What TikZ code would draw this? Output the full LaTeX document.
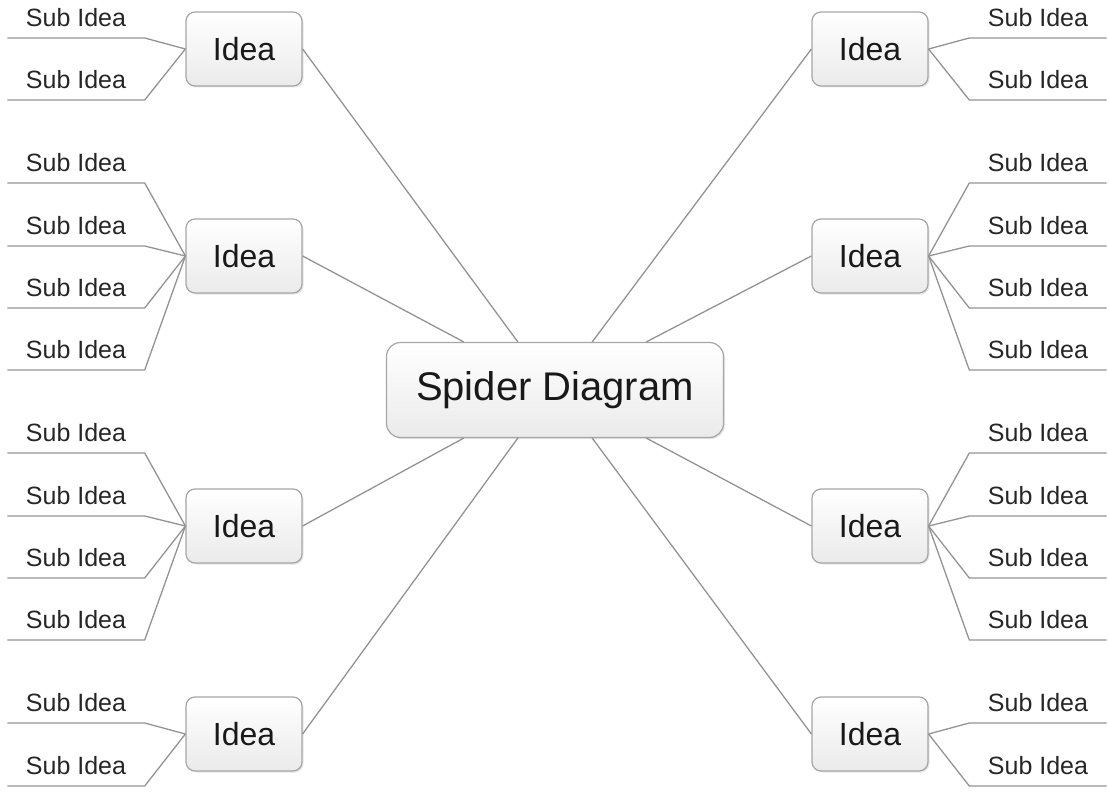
\documentclass[tikz,border=0pt]{standalone}
\usepackage{fontspec}
\setmainfont{Liberation Sans}
\usetikzlibrary{calc,shadows}

\tikzset{
  box/.style = {draw=gray!70, line width=1.2pt, rounded corners=9pt,
    top color=white, bottom color=gray!16, inner sep=0pt,
    drop shadow={opacity=0.2, shadow xshift=1.5pt, shadow yshift=-1.5pt}},
  idea/.style = {box, minimum width=116pt, minimum height=74pt, text=black!90, font=\fontsize{32}{32}\selectfont},
  topic/.style = {box, rounded corners=14pt, minimum width=337pt, minimum height=95pt, text=black!90, font=\fontsize{40}{40}\selectfont},
  sub/.style = {inner sep=0pt, minimum width=137pt, minimum height=40pt, text=black!85, font=\fontsize{25}{25}\selectfont},
  link/.style = {draw=gray!85, line width=1.3pt}
}

\begin{document}
\begin{tikzpicture}[x=1pt, y=-1pt]
    \useasboundingbox (0,0) rectangle (1109,792);

    \node[topic] (spider) at (555,390) {Spider Diagram};

    \node[idea] (ideaL1) at (244,49) {Idea};
    \node[idea] (ideaL2) at (244,256) {Idea};
    \node[idea] (ideaL3) at (244,526) {Idea};
    \node[idea] (ideaL4) at (244,734) {Idea};
    \node[idea] (ideaR1) at (870,49) {Idea};
    \node[idea] (ideaR2) at (870,256) {Idea};
    \node[idea] (ideaR3) at (870,526) {Idea};
    \node[idea] (ideaR4) at (870,734) {Idea};

    % left sub ideas
    \node[sub, anchor=south] (subL11) at (76,38) {Sub Idea};
    \node[sub, anchor=south] (subL12) at (76,100) {Sub Idea};
    \node[sub, anchor=south] (subL21) at (76,183) {Sub Idea};
    \node[sub, anchor=south] (subL22) at (76,246) {Sub Idea};
    \node[sub, anchor=south] (subL23) at (76,308) {Sub Idea};
    \node[sub, anchor=south] (subL24) at (76,370) {Sub Idea};
    \node[sub, anchor=south] (subL31) at (76,453) {Sub Idea};
    \node[sub, anchor=south] (subL32) at (76,516) {Sub Idea};
    \node[sub, anchor=south] (subL33) at (76,578) {Sub Idea};
    \node[sub, anchor=south] (subL34) at (76,640) {Sub Idea};
    \node[sub, anchor=south] (subL41) at (76,723) {Sub Idea};
    \node[sub, anchor=south] (subL42) at (76,786) {Sub Idea};

    % right sub ideas
    \node[sub, anchor=south] (subR11) at (1038,38) {Sub Idea};
    \node[sub, anchor=south] (subR12) at (1038,100) {Sub Idea};
    \node[sub, anchor=south] (subR21) at (1038,183) {Sub Idea};
    \node[sub, anchor=south] (subR22) at (1038,246) {Sub Idea};
    \node[sub, anchor=south] (subR23) at (1038,308) {Sub Idea};
    \node[sub, anchor=south] (subR24) at (1038,370) {Sub Idea};
    \node[sub, anchor=south] (subR31) at (1038,453) {Sub Idea};
    \node[sub, anchor=south] (subR32) at (1038,516) {Sub Idea};
    \node[sub, anchor=south] (subR33) at (1038,578) {Sub Idea};
    \node[sub, anchor=south] (subR34) at (1038,640) {Sub Idea};
    \node[sub, anchor=south] (subR41) at (1038,723) {Sub Idea};
    \node[sub, anchor=south] (subR42) at (1038,786) {Sub Idea};

    % center to ideas
    \draw[link] ($(spider.north west)!0.39!(spider.north east)$) -- (ideaL1.east);
    \draw[link] ($(spider.north west)!0.23!(spider.north east)$) -- (ideaL2.east);
    \draw[link] ($(spider.south west)!0.23!(spider.south east)$) -- (ideaL3.east);
    \draw[link] ($(spider.south west)!0.39!(spider.south east)$) -- (ideaL4.east);
    \draw[link] ($(spider.north west)!0.61!(spider.north east)$) -- (ideaR1.west);
    \draw[link] ($(spider.north west)!0.77!(spider.north east)$) -- (ideaR2.west);
    \draw[link] ($(spider.south west)!0.77!(spider.south east)$) -- (ideaR3.west);
    \draw[link] ($(spider.south west)!0.61!(spider.south east)$) -- (ideaR4.west);

    % ideas to sub ideas
    \draw[link] (subL11.south west) -- (subL11.south east) -- (ideaL1.west);
    \draw[link] (subL12.south west) -- (subL12.south east) -- (ideaL1.west);
    \draw[link] (subL21.south west) -- (subL21.south east) -- (ideaL2.west);
    \draw[link] (subL22.south west) -- (subL22.south east) -- (ideaL2.west);
    \draw[link] (subL23.south west) -- (subL23.south east) -- (ideaL2.west);
    \draw[link] (subL24.south west) -- (subL24.south east) -- (ideaL2.west);
    \draw[link] (subL31.south west) -- (subL31.south east) -- (ideaL3.west);
    \draw[link] (subL32.south west) -- (subL32.south east) -- (ideaL3.west);
    \draw[link] (subL33.south west) -- (subL33.south east) -- (ideaL3.west);
    \draw[link] (subL34.south west) -- (subL34.south east) -- (ideaL3.west);
    \draw[link] (subL41.south west) -- (subL41.south east) -- (ideaL4.west);
    \draw[link] (subL42.south west) -- (subL42.south east) -- (ideaL4.west);

    \draw[link] (subR11.south east) -- (subR11.south west) -- (ideaR1.east);
    \draw[link] (subR12.south east) -- (subR12.south west) -- (ideaR1.east);
    \draw[link] (subR21.south east) -- (subR21.south west) -- (ideaR2.east);
    \draw[link] (subR22.south east) -- (subR22.south west) -- (ideaR2.east);
    \draw[link] (subR23.south east) -- (subR23.south west) -- (ideaR2.east);
    \draw[link] (subR24.south east) -- (subR24.south west) -- (ideaR2.east);
    \draw[link] (subR31.south east) -- (subR31.south west) -- (ideaR3.east);
    \draw[link] (subR32.south east) -- (subR32.south west) -- (ideaR3.east);
    \draw[link] (subR33.south east) -- (subR33.south west) -- (ideaR3.east);
    \draw[link] (subR34.south east) -- (subR34.south west) -- (ideaR3.east);
    \draw[link] (subR41.south east) -- (subR41.south west) -- (ideaR4.east);
    \draw[link] (subR42.south east) -- (subR42.south west) -- (ideaR4.east);
\end{tikzpicture}
\end{document}
